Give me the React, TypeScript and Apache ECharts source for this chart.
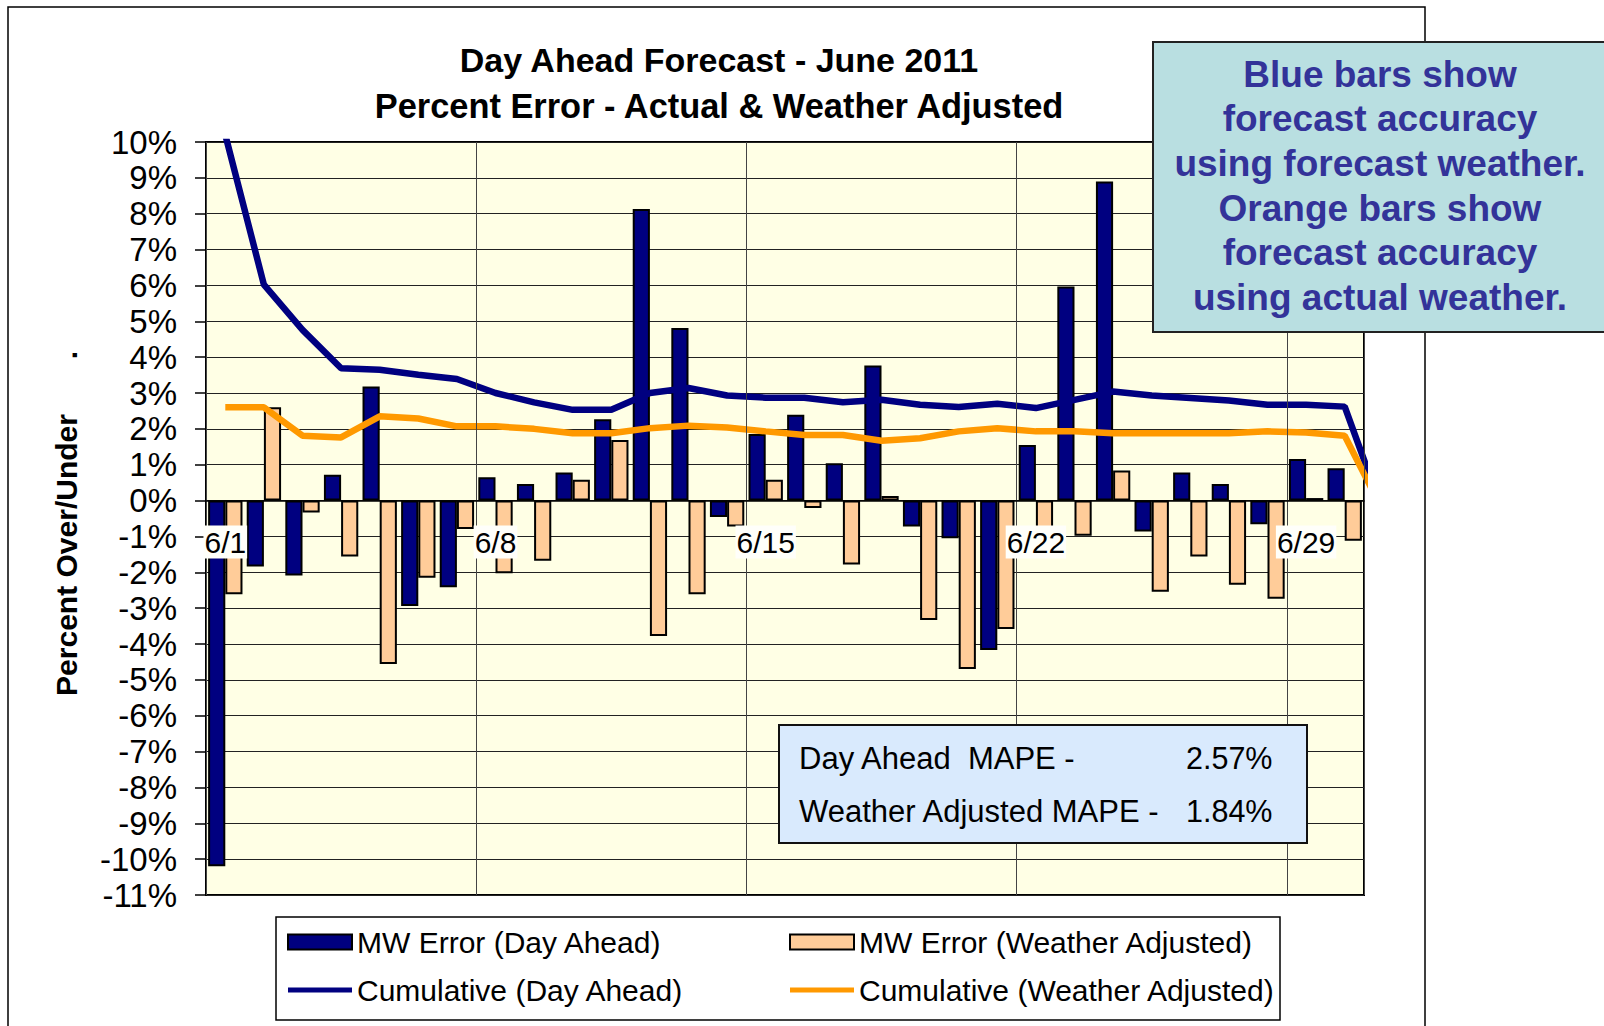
import React, { useEffect, useRef } from 'react';
import * as echarts from 'echarts';

const days = ['6/1', '6/2', '6/3', '6/4', '6/5', '6/6', '6/7', '6/8', '6/9', '6/10',
  '6/11', '6/12', '6/13', '6/14', '6/15', '6/16', '6/17', '6/18', '6/19', '6/20',
  '6/21', '6/22', '6/23', '6/24', '6/25', '6/26', '6/27', '6/28', '6/29', '6/30'];

const dayAheadError = [-10.2, -1.84, -2.09, 0.72, 3.18, -2.94, -2.42, 0.65, 0.46, 0.78,
  2.27, 8.13, 4.81, -0.46, 1.86, 2.39, 1.04, 3.77, -0.72, -1.05,
  -4.17, 1.55, 5.97, 8.9, -0.86, 0.78, 0.46, -0.66, 1.16, 0.9];

const weatherAdjError = [-2.61, 2.6, -0.33, -1.56, -4.56, -2.15, -0.79, -2.03, -1.68, 0.58,
  1.69, -3.78, -2.61, -0.72, 0.58, -0.21, -1.78, 0.13, -3.33, -4.7,
  -3.58, -1.0, -0.98, 0.84, -2.54, -1.56, -2.35, -2.74, 0.07, -1.12];

// cumulative values; the 31st point lies past the end of the axis and is clipped
const cumDayAhead = [10.2, 6.02, 4.76, 3.69, 3.65, 3.51, 3.39, 3.0, 2.74, 2.53,
  2.53, 3.0, 3.14, 2.93, 2.87, 2.87, 2.74, 2.81, 2.67, 2.61,
  2.7, 2.58, 2.81, 3.04, 2.93, 2.86, 2.79, 2.67, 2.67, 2.62, -0.34];

const cumWeatherAdj = [2.6, 2.6, 1.81, 1.76, 2.35, 2.29, 2.07, 2.07, 2.0, 1.88,
  1.88, 2.02, 2.09, 2.04, 1.93, 1.83, 1.83, 1.67, 1.74, 1.93,
  2.02, 1.93, 1.93, 1.88, 1.88, 1.88, 1.88, 1.93, 1.9, 1.81, -0.31];

const Y_MIN = -11;
const Y_MAX = 10;

const seriesNames = ['MW Error (Day Ahead)', 'MW Error (Weather Adjusted)',
  'Cumulative (Day Ahead)', 'Cumulative (Weather Adjusted)'];

const titleLines = ['Day Ahead Forecast - June 2011', 'Percent Error - Actual & Weather Adjusted'];
const yAxisTitle = 'Percent Over/Under';
const noteLines = ['Blue bars show', 'forecast accuracy', 'using forecast weather.',
  'Orange bars show', 'forecast accuracy', 'using actual weather.'];
const mapeLabels = ['Day Ahead  MAPE -', 'Weather Adjusted MAPE -'];
const mapeValues = ['2.57%', '1.84%'];

const FONT = '"Liberation Sans", Arial, Helvetica, sans-serif';

const GRID = { left: 206, top: 142, width: 1158, height: 753 };

export default function App() {
  const ref = useRef<HTMLDivElement>(null);

  useEffect(() => {
    if (!ref.current) return;
    const chart = echarts.init(ref.current, undefined, { renderer: 'svg' });

    const graphic: any[] = [
      {
        type: 'rect', z: 0, silent: true,
        shape: { x: 8, y: 7, width: 1417, height: 1100 },
        style: { fill: 'none', stroke: '#000', lineWidth: 1.5 },
      },
      ...titleLines.map((t, i) => ({
        type: 'text', z: 50, x: 719, y: 60 + i * 46,
        style: {
          text: t, fontSize: i === 0 ? 34 : 34.4, fontWeight: 'bold', fontFamily: FONT, fill: '#000',
          textAlign: 'center', textVerticalAlign: 'middle',
        },
      })),
      {
        type: 'text', z: 50, x: 66, y: 555, rotation: Math.PI / 2,
        style: {
          text: yAxisTitle, fontSize: 30, fontWeight: 'bold', fontFamily: FONT, fill: '#000',
          textAlign: 'center', textVerticalAlign: 'middle',
        },
      },
      {
        type: 'text', z: 50, x: 66, y: 355, rotation: Math.PI / 2,
        style: {
          text: '.', fontSize: 30, fontWeight: 'bold', fontFamily: FONT, fill: '#000',
          textAlign: 'center', textVerticalAlign: 'middle',
        },
      },
      // MAPE box
      {
        type: 'rect', z: 100,
        shape: { x: 779, y: 725, width: 528, height: 118 },
        style: { fill: '#D9EAFD', stroke: '#111', lineWidth: 2 },
      },
      ...mapeLabels.map((t, i) => ({
        type: 'text', z: 101, x: 799, y: 758 + i * 53,
        style: {
          text: t, fontSize: 31, fontFamily: FONT, fill: '#000',
          textAlign: 'left', textVerticalAlign: 'middle',
        },
      })),
      ...mapeValues.map((t, i) => ({
        type: 'text', z: 101, x: 1186, y: 758 + i * 53,
        style: {
          text: t, fontSize: 30.5, fontFamily: FONT, fill: '#000',
          textAlign: 'left', textVerticalAlign: 'middle',
        },
      })),
      // note box
      {
        type: 'rect', z: 100,
        shape: { x: 1153, y: 42, width: 470, height: 290 },
        style: { fill: '#B9DFE1', stroke: '#222', lineWidth: 2 },
      },
      ...noteLines.map((t, i) => ({
        type: 'text', z: 101, x: 1380, y: 74 + i * 44.7,
        style: {
          text: t, fontSize: 37, fontWeight: 'bold', fontFamily: FONT, fill: '#333399',
          textAlign: 'center', textVerticalAlign: 'middle',
        },
      })),
      // legend frame
      {
        type: 'rect', z: 1,
        shape: { x: 276, y: 917, width: 1004, height: 103 },
        style: { fill: '#fff', stroke: '#000', lineWidth: 1.5 },
      },
    ];

    const legendCommon = {
      orient: 'vertical',
      top: 925,
      itemGap: 14,
      itemWidth: 64,
      itemHeight: 15,
      padding: 0,
      selectedMode: false,
      z: 20,
      textStyle: { fontSize: 30, lineHeight: 34, fontFamily: FONT, color: '#000' },
    };
    const lineIcon = 'path://M0,0H64V5H0Z';

    // distance from the bottom of the plot up to the zero line
    const zeroOffset = -(GRID.height * (0 - Y_MIN)) / (Y_MAX - Y_MIN);

    const option: any = {
      animation: false,
      backgroundColor: '#fff',
      textStyle: { fontFamily: FONT },
      graphic,
      legend: [
        {
          ...legendCommon, left: 287,
          data: [{ name: seriesNames[0], icon: 'rect' }, { name: seriesNames[2], icon: lineIcon }],
        },
        {
          ...legendCommon, left: 789,
          data: [{ name: seriesNames[1], icon: 'rect' }, { name: seriesNames[3], icon: lineIcon }],
        },
      ],
      grid: {
        ...GRID,
        show: true, backgroundColor: '#FFFFE5', borderColor: '#000', borderWidth: 2,
      },
      xAxis: [
        {
          type: 'category',
          data: days,
          boundaryGap: true,
          position: 'bottom',
          offset: zeroOffset,
          z: 10,
          axisLine: { show: true, onZero: false, lineStyle: { color: '#000', width: 1.5 } },
          axisTick: { show: false },
          axisLabel: {
            interval: 6, margin: 25, fontSize: 30, lineHeight: 33, color: '#000',
            fontFamily: FONT, backgroundColor: '#FFFFFA', padding: [0, 1],
          },
          splitLine: { show: true, interval: 6, lineStyle: { color: '#444', width: 1 } },
        },
        {
          type: 'value', min: 0, max: 30, show: false, position: 'top',
          axisLine: { onZero: false },
          splitLine: { show: false },
        },
      ],
      yAxis: {
        type: 'value', min: Y_MIN, max: Y_MAX, interval: 1,
        axisLine: { show: true, onZero: false, lineStyle: { color: '#000', width: 2 } },
        axisTick: { show: true, length: 11, inside: false, lineStyle: { color: '#000', width: 1.5 } },
        axisLabel: { formatter: '{value}%', fontSize: 33, color: '#000', margin: 29, fontFamily: FONT },
        splitLine: { show: true, lineStyle: { color: '#222', width: 1 } },
      },
      series: [
        {
          name: seriesNames[0], type: 'bar', xAxisIndex: 0, data: dayAheadError,
          barGap: '0%', barCategoryGap: '11%',
          itemStyle: { color: '#000080', borderColor: '#000', borderWidth: 2 },
        },
        {
          name: seriesNames[1], type: 'bar', xAxisIndex: 0, data: weatherAdjError,
          barGap: '0%', barCategoryGap: '11%',
          itemStyle: { color: '#FFCC99', borderColor: '#000', borderWidth: 2 },
        },
        {
          name: seriesNames[2], type: 'line', xAxisIndex: 1, yAxisIndex: 0, z: 5,
          data: cumDayAhead.map((v, i) => [i + 0.5, v]),
          symbol: 'none', showSymbol: false, clip: true,
          lineStyle: { color: '#000080', width: 6.5, type: 'solid' },
          emphasis: { disabled: true },
          itemStyle: { color: '#000080' },
        },
        {
          name: seriesNames[3], type: 'line', xAxisIndex: 1, yAxisIndex: 0, z: 5,
          data: cumWeatherAdj.map((v, i) => [i + 0.5, v]),
          symbol: 'none', showSymbol: false, clip: true,
          lineStyle: { color: '#FF9900', width: 6.5, type: 'solid' },
          emphasis: { disabled: true },
          itemStyle: { color: '#FF9900' },
        },
      ],
    };

    chart.setOption(option);
    return () => chart.dispose();
  }, []);

  return (
    <div
      ref={ref}
      style={{ position: 'fixed', left: 0, top: 0, width: 1604, height: 1026, background: '#fff' }}
    />
  );
}
